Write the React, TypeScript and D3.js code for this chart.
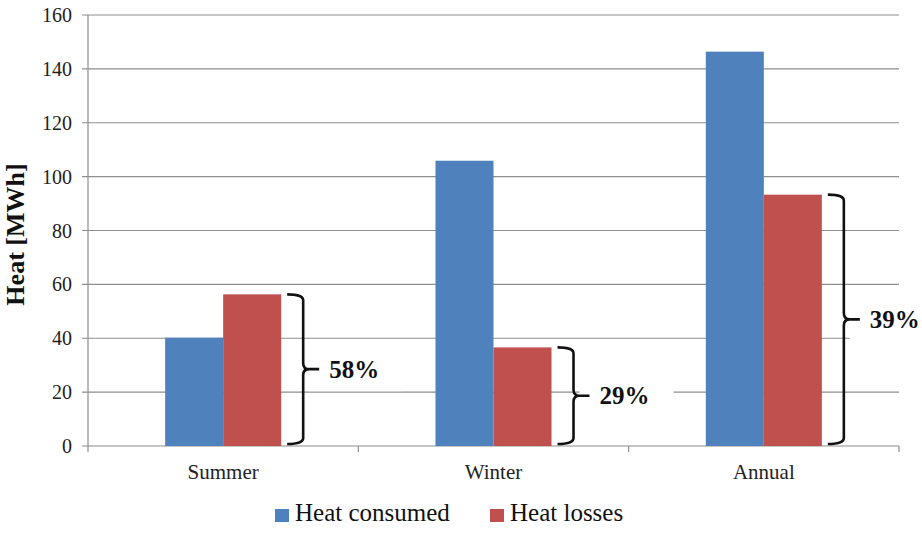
import React from "react";
import * as d3 from "d3";

const categories = ["Summer", "Winter", "Annual"];
const heatConsumed = [40.2, 105.9, 146.4];
const heatLosses = [56.3, 36.6, 93.3];
const lossShares = ["58%", "29%", "39%"];
const yTicks = [0, 20, 40, 60, 80, 100, 120, 140, 160];
const seriesNames = ["Heat consumed", "Heat losses"];
const seriesColors = ["#4F81BD", "#C0504D"];

const W = 922;
const H = 537;
const left = 88;
const right = 899;
const top = 15;
const bottom = 446;
const serif = "'Liberation Serif', 'Times New Roman', serif";
const gridColor = "#8e8e8e";

export default function App() {
  const x = d3.scaleBand<string>().domain(categories).range([left, right]).padding(0);
  const inner = d3
    .scaleBand<string>()
    .domain(seriesNames)
    .range([0, x.bandwidth()])
    .paddingInner(0)
    .paddingOuter(1.33);
  const y = d3.scaleLinear().domain([0, 160]).range([bottom, top]);
  const values = [heatConsumed, heatLosses];

  return (
    <div style={{ position: "absolute", left: 0, top: 0, width: W, height: H, overflow: "hidden" }}>
      <svg width={W} height={H} style={{ display: "block", background: "#fff" }}>
        {/* gridlines */}
        {yTicks.map((t) => (
          <line
            key={"g" + t}
            x1={left - 6}
            x2={right}
            y1={y(t)}
            y2={y(t)}
            stroke={gridColor}
            strokeWidth={1.2}
          />
        ))}
        {/* y axis */}
        <line x1={left} x2={left} y1={top} y2={bottom} stroke={gridColor} strokeWidth={1.2} />
        {/* category ticks */}
        {[...categories.map((c) => x(c) as number), right].map((px, i) => (
          <line key={"ct" + i} x1={px} x2={px} y1={bottom} y2={bottom + 6} stroke={gridColor} strokeWidth={1.2} />
        ))}
        {/* y tick labels */}
        {yTicks.map((t) => (
          <text
            key={"yl" + t}
            x={left - 16}
            y={y(t)}
            dy="0.35em"
            textAnchor="end"
            fontFamily={serif}
            fontSize={20}
            fill="#222"
          >
            {t}
          </text>
        ))}
        {/* y axis title */}
        <text
          transform={`translate(24, ${(top + bottom) / 2 + 4}) rotate(-90)`}
          textAnchor="middle"
          fontFamily={serif}
          fontWeight="bold"
          fontSize={26}
          fill="#111"
        >
          Heat [MWh]
        </text>
        {/* bars */}
        {categories.map((c, ci) =>
          seriesNames.map((s, si) => (
            <rect
              key={c + s}
              x={(x(c) as number) + (inner(s) as number)}
              y={y(values[si][ci])}
              width={inner.bandwidth()}
              height={bottom - y(values[si][ci])}
              fill={seriesColors[si]}
            />
          ))
        )}
        {/* category labels */}
        {categories.map((c) => (
          <text
            key={"cl" + c}
            x={(x(c) as number) + x.bandwidth() / 2}
            y={479}
            textAnchor="middle"
            fontFamily={serif}
            fontSize={21}
            fill="#222"
          >
            {c}
          </text>
        ))}
        {/* braces & share labels */}
        {categories.map((c, ci) => {
          const x0 = (x(c) as number) + (inner(seriesNames[1]) as number) + inner.bandwidth() + 6;
          const xv = x0 + 16;
          const xt = xv + 16;
          const yTop = y(heatLosses[ci]);
          const yBot = bottom - 2;
          const mid = (yTop + yBot) / 2;
          const r = 6;
          const d =
            `M${x0},${yTop} Q${xv},${yTop} ${xv},${yTop + r} V${mid - r} Q${xv},${mid} ${xv + r},${mid} H${xt}` +
            ` M${xv + r},${mid} Q${xv},${mid} ${xv},${mid + r} V${yBot - r} Q${xv},${yBot} ${x0},${yBot}`;
          const tx = xt + 10;
          return (
            <g key={"b" + c}>
              <rect x={tx - 20} y={mid - 22} width={Math.min(94, W - (tx - 20))} height={44} fill="#fff" />
              <path d={d} fill="none" stroke="#111" strokeWidth={2.6} />
              <text
                x={tx}
                y={mid}
                dy="0.35em"
                fontFamily={serif}
                fontWeight="bold"
                fontSize={25}
                fill="#111"
              >
                {lossShares[ci]}
              </text>
            </g>
          );
        })}
        {/* legend */}
        {seriesNames.map((s, i) => {
          const lx = [275, 490][i];
          return (
            <g key={"lg" + s}>
              <rect x={lx} y={509} width={14} height={13} fill={seriesColors[i]} />
              <text x={lx + 20} y={521} fontFamily={serif} fontSize={25} fill="#111">
                {s}
              </text>
            </g>
          );
        })}
      </svg>
    </div>
  );
}
